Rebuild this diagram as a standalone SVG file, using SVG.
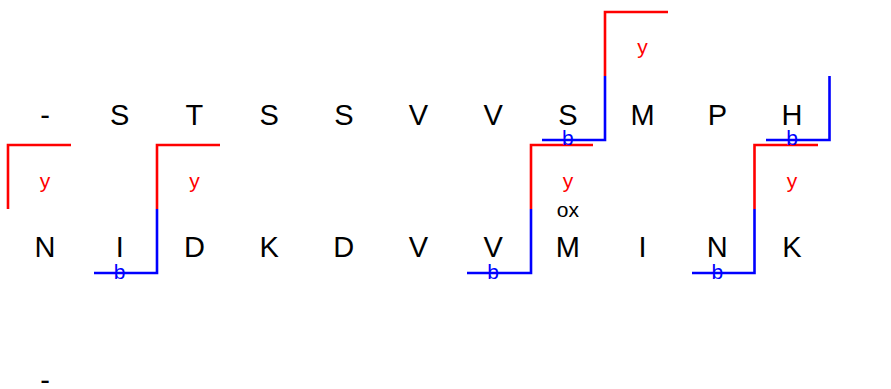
<svg xmlns="http://www.w3.org/2000/svg" width="891" height="389" viewBox="0 0 891 389">
<style>
.aa{font-family:"Liberation Sans",Arial,sans-serif;font-size:29px;fill:#000;text-anchor:middle}
.ion{font-family:"Liberation Sans",Arial,sans-serif;font-size:21px;text-anchor:middle}
.yl{fill:#ff0000}
.bl{fill:#0000ff}
.ox{fill:#000}
.ry{fill:none;stroke:#ff0000;stroke-width:2.6}
.rb{fill:none;stroke:#0000ff;stroke-width:2.6}
</style>
<rect width="891" height="389" fill="#fff"/>
<g id="row1">
<g id="r1-0"><text class="aa" x="45" y="124.5">-</text></g>
<g id="r1-1"><text class="aa" x="119.7" y="124.5">S</text></g>
<g id="r1-2"><text class="aa" x="194.4" y="124.5">T</text></g>
<g id="r1-3"><text class="aa" x="269.1" y="124.5">S</text></g>
<g id="r1-4"><text class="aa" x="343.8" y="124.5">S</text></g>
<g id="r1-5"><text class="aa" x="418.5" y="124.5">V</text></g>
<g id="r1-6"><text class="aa" x="493.2" y="124.5">V</text></g>
<g id="r1-7"><text class="aa" x="567.9" y="124.5">S</text></g>
<g id="r1-8"><text class="aa" x="642.6" y="124.5">M</text></g>
<g id="r1-9"><text class="aa" x="717.3" y="124.5">P</text></g>
<g id="r1-10"><text class="aa" x="792" y="124.5">H</text></g>
</g>
<g id="row2">
<g id="r2-0"><text class="aa" x="45" y="257">N</text></g>
<g id="r2-1"><text class="aa" x="119.7" y="257">I</text></g>
<g id="r2-2"><text class="aa" x="194.4" y="257">D</text></g>
<g id="r2-3"><text class="aa" x="269.1" y="257">K</text></g>
<g id="r2-4"><text class="aa" x="343.8" y="257">D</text></g>
<g id="r2-5"><text class="aa" x="418.5" y="257">V</text></g>
<g id="r2-6"><text class="aa" x="493.2" y="257">V</text></g>
<g id="r2-7"><text class="aa" x="567.9" y="257">M</text><text class="ion ox" x="567.9" y="217">ox</text></g>
<g id="r2-8"><text class="aa" x="642.6" y="257">I</text></g>
<g id="r2-9"><text class="aa" x="717.3" y="257">N</text></g>
<g id="r2-10"><text class="aa" x="792" y="257">K</text></g>
</g>
<g id="row3">
<g id="r3-0"><text class="aa" x="45" y="390">-</text></g>
</g>
<g id="connectors">
<path class="ry" d="M8,209 V145 H71"/>
<path class="ry" d="M157,209 V145 H220"/>
<path class="rb" d="M157,209 V273 H94"/>
<path class="ry" d="M531,209 V145 H593"/>
<path class="rb" d="M531,209 V273 H467"/>
<path class="ry" d="M754.5,209 V145 H818"/>
<path class="rb" d="M754.5,209 V273 H692"/>
<path class="ry" d="M605,76 V12 H668"/>
<path class="rb" d="M605,76 V140 H542"/>
<path class="rb" d="M829.5,76 V140 H766"/>
</g>
<g id="ion-labels">
<text class="ion yl" x="45" y="187.5">y</text>
<text class="ion yl" x="194.4" y="187.5">y</text>
<text class="ion bl" x="119.7" y="278.5">b</text>
<text class="ion yl" x="567.9" y="187.5">y</text>
<text class="ion bl" x="493.2" y="278.5">b</text>
<text class="ion yl" x="792" y="187.5">y</text>
<text class="ion bl" x="717.3" y="278.5">b</text>
<text class="ion yl" x="642.6" y="54">y</text>
<text class="ion bl" x="567.9" y="145">b</text>
<text class="ion bl" x="792" y="145">b</text>
</g>
</svg>
